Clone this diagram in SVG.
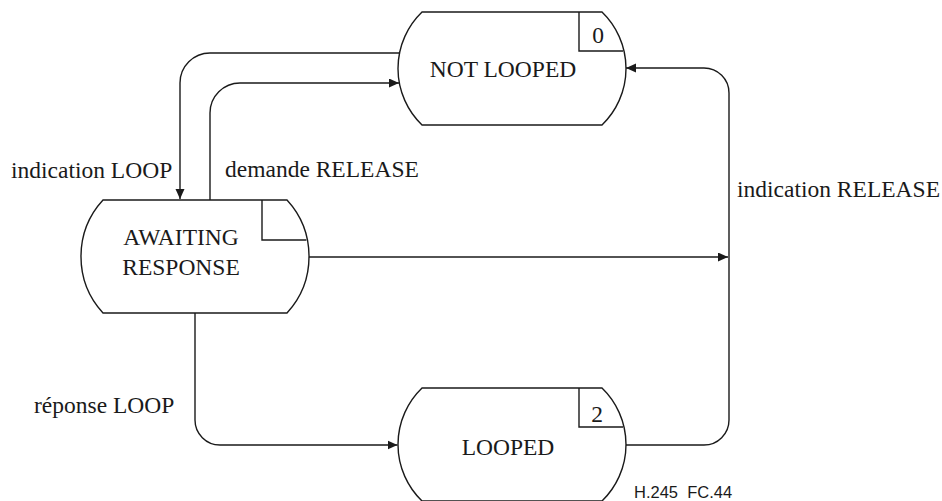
<svg xmlns="http://www.w3.org/2000/svg" width="942" height="501" viewBox="0 0 942 501">
<style>
  .node { fill: #ffffff; stroke: #1a1a1a; stroke-width: 1.4; }
  .box { fill: none; stroke: #1a1a1a; stroke-width: 1.4; }
  .conn { fill: none; stroke: #1a1a1a; stroke-width: 1.4; }
  .lbl { font-family: "Liberation Serif", "Times New Roman", serif; font-size: 23.5px; fill: #1a1a1a; }
  .mid { text-anchor: middle; }
  .tag { font-family: "Liberation Sans", Arial, sans-serif; font-size: 16.5px; fill: #1a1a1a; }
</style>
<defs>
  <marker id="arrow" markerUnits="userSpaceOnUse" markerWidth="11" markerHeight="10" refX="10" refY="4.5" orient="auto">
    <path d="M0,0 L10,4.5 L0,9 Z" fill="#1a1a1a"/>
  </marker>
</defs>
<rect width="942" height="501" fill="#ffffff"/>

<g id="connectors">
  <path class="conn" d="M399.5,53 H210 A30,30 0 0 0 180,83 V199" marker-end="url(#arrow)"/>
  <path class="conn" d="M210,200 V113 A30,30 0 0 1 240,83 H399" marker-end="url(#arrow)"/>
  <path class="conn" d="M308,257 H728" marker-end="url(#arrow)"/>
  <path class="conn" d="M625,445 H704 A25,25 0 0 0 729,420 V93 A25,25 0 0 0 704,68 H626" marker-end="url(#arrow)"/>
  <path class="conn" d="M195,313 V420 A25,25 0 0 0 220,445 H397.5" marker-end="url(#arrow)"/>
</g>

<g id="not-looped">
  <path class="node" d="M422,12 H602 A78.5,78.5 0 0 1 602,125 H422 A78.5,78.5 0 0 1 422,12 Z"/>
  <path class="box" d="M579,12 V51 H623"/>
  <text class="lbl mid" x="598" y="43">0</text>
  <text class="lbl mid" x="503" y="77">NOT LOOPED</text>
</g>

<g id="awaiting-response">
  <path class="node" d="M103,200 H287 A83.5,83.5 0 0 1 287,313 H103 A83.5,83.5 0 0 1 103,200 Z"/>
  <path class="box" d="M262,200 V240 H306.4"/>
  <text class="lbl mid" x="181" y="245">AWAITING</text>
  <text class="lbl mid" x="181" y="275">RESPONSE</text>
</g>

<g id="looped">
  <path class="node" d="M422,388 H602 A78.5,78.5 0 0 1 602,501 H422 A78.5,78.5 0 0 1 422,388 Z"/>
  <path class="box" d="M579,388 V427 H623"/>
  <text class="lbl mid" x="597" y="422">2</text>
  <text class="lbl mid" x="508" y="455">LOOPED</text>
</g>

<g id="labels">
  <text class="lbl" x="11" y="178">indication LOOP</text>
  <text class="lbl" x="225" y="177">demande RELEASE</text>
  <text class="lbl" x="737" y="197">indication RELEASE</text>
  <text class="lbl" x="34" y="413">réponse LOOP</text>
  <text class="tag" x="634" y="498" xml:space="preserve">H.245  FC.44</text>
</g>
</svg>
